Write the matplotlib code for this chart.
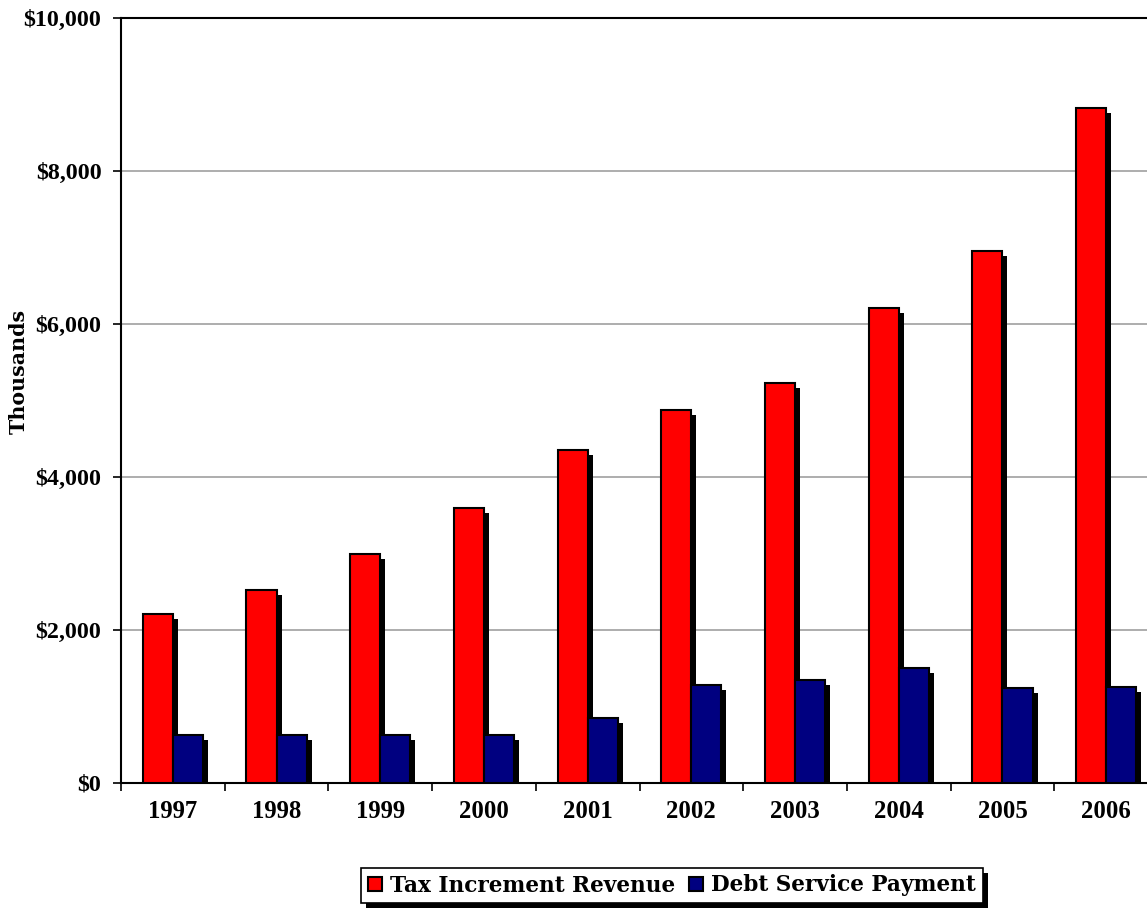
import matplotlib
matplotlib.use('Agg')
import matplotlib.pyplot as plt
import matplotlib.patheffects as pe
from matplotlib.ticker import FuncFormatter, MultipleLocator
import numpy as np

years = ['1997', '1998', '1999', '2000', '2001', '2002', '2003', '2004', '2005', '2006']
tax_revenue = [2210, 2520, 3000, 3600, 4350, 4870, 5235, 6210, 6960, 8820]
debt_service = [630, 630, 630, 630, 850, 1280, 1350, 1500, 1245, 1250]

plt.rcParams['font.family'] = ['Liberation Serif', 'DejaVu Serif']
plt.rcParams['font.weight'] = 'bold'

fig = plt.figure(figsize=(11.47, 9.08), dpi=100)
ax = fig.add_axes([121 / 1147, 125 / 908, 1037 / 1147, 765 / 908])

x = np.arange(len(years))
w = 0.29
shadow = [pe.SimplePatchShadow(offset=(3.6, -3.6), shadow_rgbFace='black', alpha=1.0), pe.Normal()]

b1 = ax.bar(x - w / 2, tax_revenue, w, color='#ff0000', edgecolor='black', linewidth=1.5,
            label='Tax Increment Revenue', zorder=3)
b2 = ax.bar(x + w / 2, debt_service, w, color='#000080', edgecolor='black', linewidth=1.5,
            label='Debt Service Payment', zorder=4)
for r in list(b1) + list(b2):
    r.set_path_effects(shadow)

ax.set_xlim(-0.5, len(years) - 0.5)
ax.set_ylim(0, 10000)
ax.yaxis.set_major_locator(MultipleLocator(2000))
ax.yaxis.set_major_formatter(FuncFormatter(lambda v, p: '${:,.0f}'.format(v)))
ax.grid(axis='y', color='#a0a0a0', linewidth=1.2, zorder=0)
ax.set_axisbelow(True)

ax.set_xticks(x)
ax.set_xticklabels(years)
ax.set_xticks(np.arange(len(years) + 1) - 0.5, minor=True)
ax.tick_params(axis='x', which='major', length=0, pad=12, labelsize=17.8)
ax.tick_params(axis='x', which='minor', length=6, width=1.2, direction='out')
ax.tick_params(axis='y', length=6, width=1.2, pad=8, labelsize=17.3)

for s in ['left', 'bottom', 'top']:
    ax.spines[s].set_linewidth(1.5)
ax.spines['right'].set_visible(False)

ax.set_ylabel('Thousands', fontsize=14.8, fontweight='bold', family='DejaVu Serif')
ax.yaxis.set_label_coords(-0.0887, 0.5386)

leg = fig.legend(handles=[b1, b2], loc='center', ncol=2, bbox_to_anchor=(672 / 1147, 22.5 / 908),
                 frameon=True, fancybox=False, edgecolor='black', framealpha=1,
                 handlelength=0.64, handleheight=0.64, handletextpad=0.37, columnspacing=0.64,
                 borderpad=0.32, borderaxespad=0,
                 prop={'family': 'DejaVu Serif', 'weight': 'bold', 'size': 15.6})
frame = leg.get_frame()
frame.set_linewidth(1.2)
frame.set_path_effects(shadow)
for h in leg.legend_handles:
    h.set_path_effects([])

fig.savefig('out.png', dpi=100)
